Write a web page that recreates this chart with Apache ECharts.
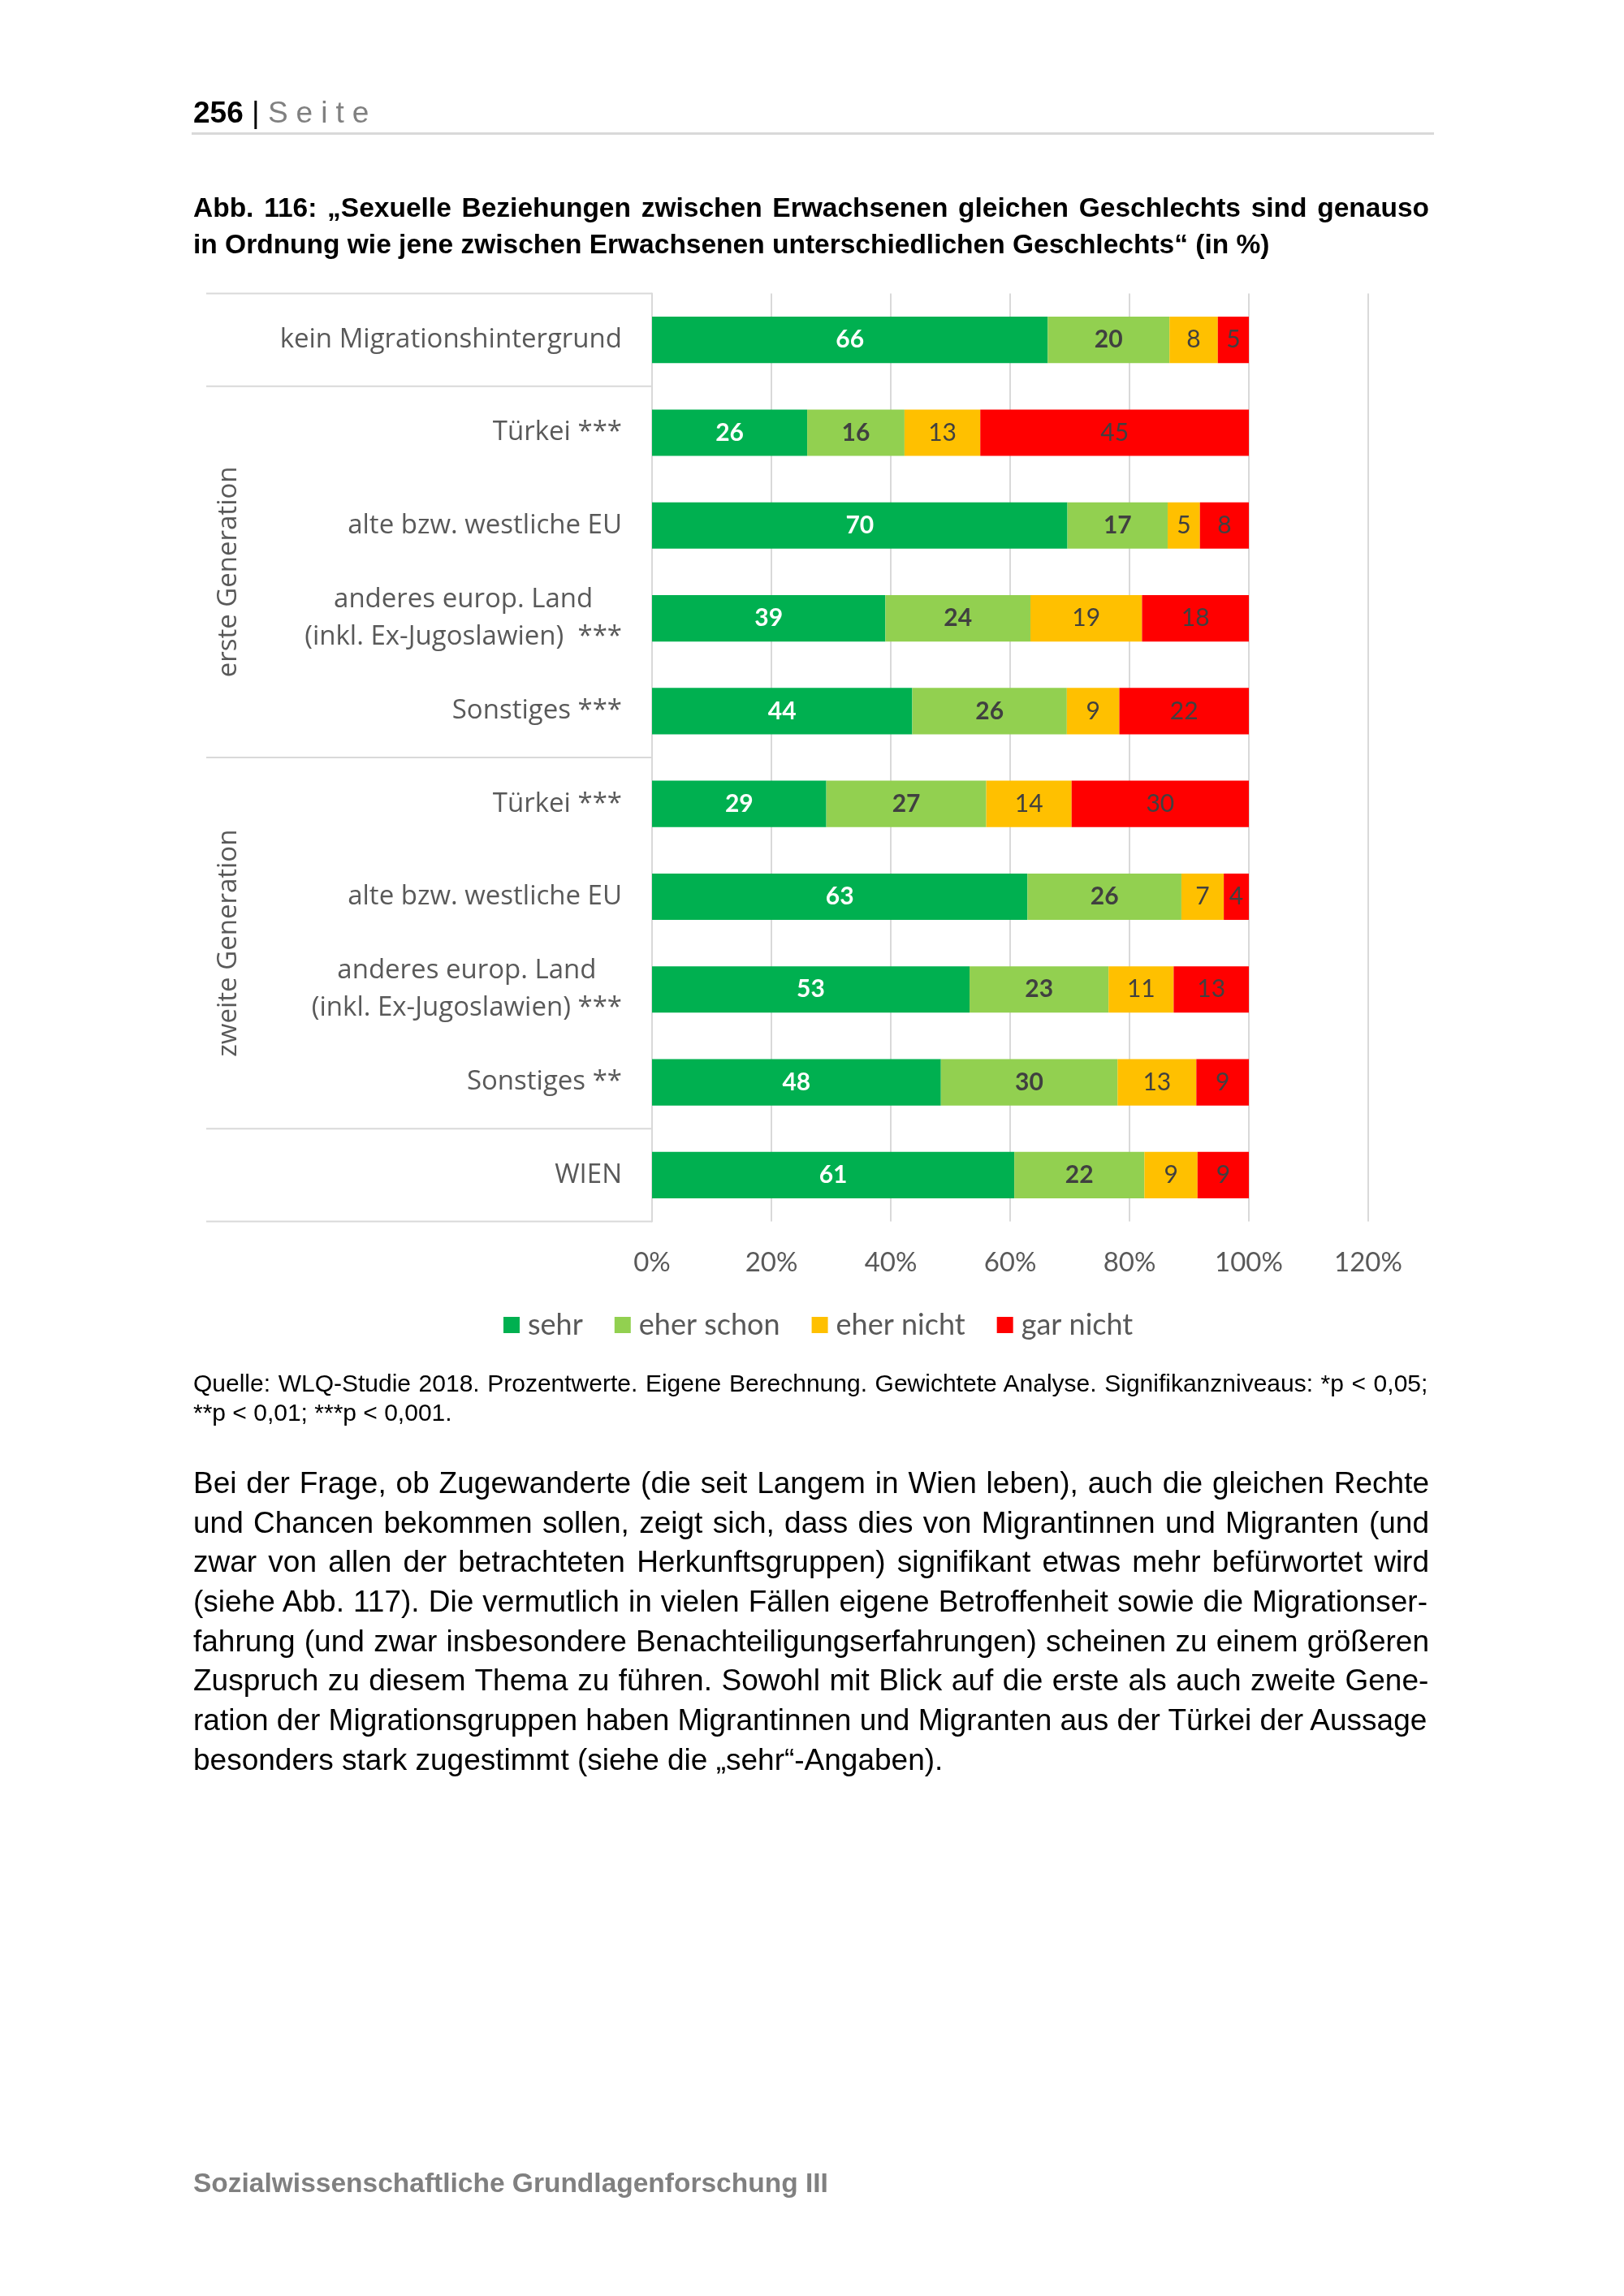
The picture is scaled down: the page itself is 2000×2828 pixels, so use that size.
<!DOCTYPE html>
<html>
<head>
<meta charset="utf-8">
<script src="https://cdn.jsdelivr.net/npm/echarts@6/dist/echarts.min.js"></script>
<style>
html,body{margin:0;padding:0;background:#fff;}
#page{position:relative;width:2000px;height:2828px;overflow:hidden;background:#fff;}
#chart{position:absolute;left:0;top:0;width:2000px;height:2828px;}
.t{position:absolute;left:238px;white-space:nowrap;font-family:"Liberation Sans",Arial,sans-serif;color:#000;}
#rule{position:absolute;left:236px;top:163px;width:1530px;height:3px;background:#d9d9d9;}
</style>
</head>
<body>
<div id="page">
<div id="chart"></div>
<div id="rule"></div>
<div id="texts"></div>
</div>
<script>
// ---------------- data ----------------
const categories = [
  'kein Migrationshintergrund',
  'Türkei ***',
  'alte bzw. westliche EU',
  'anderes europ. Land\n(inkl. Ex-Jugoslawien)  ***',
  'Sonstiges ***',
  'Türkei ***',
  'alte bzw. westliche EU',
  'anderes europ. Land\n(inkl. Ex-Jugoslawien) ***',
  'Sonstiges **',
  'WIEN'
];
const seriesNames = ['sehr', 'eher schon', 'eher nicht', 'gar nicht'];
const sehr      = [66.3, 26.0, 69.6, 39.1, 43.6, 29.2, 62.9, 53.2, 48.4, 60.7];
const eherSchon = [20.4, 16.3, 16.8, 24.3, 25.9, 26.8, 25.8, 23.3, 29.6, 21.8];
const eherNicht = [8.1, 12.7, 5.4, 18.7, 8.8, 14.3, 7.1, 10.9, 13.2, 8.9];
const garNicht  = [5.2, 45.0, 8.2, 17.9, 21.7, 29.7, 4.2, 12.6, 8.8, 8.6];
const xMin = 0, xMax = 120, xStep = 20;
const groupLabels = [
  {name: 'erste Generation', from: 1, to: 4},
  {name: 'zweite Generation', from: 5, to: 8}
];
const separatorBefore = [0, 1, 5, 9, 10];

// ---------------- page text ----------------
const textLines = [
  {html:'<b>256</b> | <span style="color:#808080;letter-spacing:10px">Seite</span>', cy:139, size:37, lh:44},
  {text:'Abb. 116: „Sexuelle Beziehungen zwischen Erwachsenen gleichen Geschlechts sind genauso', cy:256, size:33.5, lh:42, bold:true, justify:true},
  {text:'in Ordnung wie jene zwischen Erwachsenen unterschiedlichen Geschlechts“ (in %)', cy:301, size:33.5, lh:42, bold:true},
  {text:'Quelle: WLQ-Studie 2018. Prozentwerte. Eigene Berechnung. Gewichtete Analyse. Signifikanzniveaus: *p < 0,05;', cy:1704, size:30, lh:36, justify:true},
  {text:'**p < 0,01; ***p < 0,001.', cy:1740, size:30, lh:36},
  {text:'Bei der Frage, ob Zugewanderte (die seit Langem in Wien leben), auch die gleichen Rechte', cy:1827, size:37, lh:46, justify:true},
  {text:'und Chancen bekommen sollen, zeigt sich, dass dies von Migrantinnen und Migranten (und', cy:1875.5, size:37, lh:46, justify:true},
  {text:'zwar von allen der betrachteten Herkunftsgruppen) signifikant etwas mehr befürwortet wird', cy:1924.2, size:37, lh:46, justify:true},
  {text:'(siehe Abb. 117). Die vermutlich in vielen Fällen eigene Betroffenheit sowie die Migrationser-', cy:1972.8, size:37, lh:46, justify:true},
  {text:'fahrung (und zwar insbesondere Benachteiligungserfahrungen) scheinen zu einem größeren', cy:2021.5, size:37, lh:46, justify:true},
  {text:'Zuspruch zu diesem Thema zu führen. Sowohl mit Blick auf die erste als auch zweite Gene-', cy:2070.2, size:37, lh:46, justify:true},
  {text:'ration der Migrationsgruppen haben Migrantinnen und Migranten aus der Türkei der Aussage', cy:2118.9, size:37, lh:46, justify:true},
  {text:'besonders stark zugestimmt (siehe die „sehr“-Angaben).', cy:2167.7, size:37, lh:46},
  {text:'Sozialwissenschaftliche Grundlagenforschung III', cy:2689, size:33.5, lh:40, bold:true, color:'#808080'}
];
const TARGET_W = 1522;
const measureCtx = document.createElement('canvas').getContext('2d');
const holder = document.getElementById('texts');
textLines.forEach(function (l) {
  const d = document.createElement('div');
  d.className = 't';
  d.style.fontSize = l.size + 'px';
  d.style.lineHeight = l.lh + 'px';
  d.style.top = (l.cy - l.lh / 2) + 'px';
  if (l.bold) d.style.fontWeight = 'bold';
  if (l.color) d.style.color = l.color;
  if (l.html) { d.innerHTML = l.html; }
  else { d.textContent = l.text; }
  if (l.justify) {
    measureCtx.font = (l.bold ? 'bold ' : '') + l.size + 'px "Liberation Sans"';
    const w = measureCtx.measureText(l.text).width;
    const spaces = (l.text.match(/ /g) || []).length;
    if (spaces > 0) d.style.wordSpacing = ((TARGET_W - w) / spaces) + 'px';
  }
  holder.appendChild(d);
});

// ---------------- chart ----------------
const colors = ['#00B050', '#92D050', '#FFC000', '#FF0000'];
const values = [sehr, eherSchon, eherNicht, garNicht];
const labelStyles = [
  {color:'#ffffff', fontWeight:'bold'},
  {color:'#404040', fontWeight:'bold'},
  {color:'#404040', fontWeight:'normal'},
  {color:'#404040', fontWeight:'normal'}
];
const chart = echarts.init(document.getElementById('chart'), null, {renderer:'canvas'});
const gridLine = '#D9D9D9';
const catFont = 'Open Sans';
const option = {
  animation: false,
  backgroundColor: 'transparent',
  grid: {left: 803, right: 315, top: 361.5, height: 1143, containLabel: false},
  xAxis: {
    type: 'value', min: xMin, max: xMax, interval: xStep,
    axisLine: {show: false}, axisTick: {show: false},
    splitLine: {show: true, lineStyle: {color: gridLine, width: 2}},
    axisLabel: {formatter: '{value}%', color: '#595959', fontFamily: 'Lato', fontSize: 33, margin: 34}
  },
  yAxis: {
    type: 'category', inverse: true, data: categories,
    axisLine: {show: true, lineStyle: {color: gridLine, width: 2}},
    axisTick: {show: false},
    axisLabel: {
      interval: 0, margin: 37, color: '#595959', fontFamily: catFont, fontSize: 33, lineHeight: 46,
      formatter: function (v) { return v.split('\n').map(function (s) { return '{c|' + s + '}'; }).join('\n'); },
      rich: {c: {align: 'center', color: '#595959', fontFamily: catFont, fontSize: 33, lineHeight: 46}}
    }
  },
  legend: {
    data: seriesNames, left: 615, top: 1609, icon: 'rect', itemWidth: 20, itemHeight: 20, itemGap: 39,
    textStyle: {fontFamily: 'Lato', fontSize: 36, color: '#595959', padding: [0, 0, 0, 5]}
  },
  series: seriesNames.map(function (name, i) {
    return {
      name: name, type: 'bar', stack: 'total', barCategoryGap: '50%',
      data: values[i],
      itemStyle: {color: colors[i]},
      emphasis: {disabled: true},
      label: {
        show: true, position: 'inside', fontFamily: 'Lato', fontSize: 30,
        color: labelStyles[i].color, fontWeight: labelStyles[i].fontWeight,
        textBorderWidth: 0,
        formatter: function (p) { return Math.round(p.value); }
      }
    };
  })
};
chart.setOption(option);

// separators and group labels positioned through the axis scale
const yc = function (i) { return chart.convertToPixel({yAxisIndex: 0}, i); };
const band = yc(1) - yc(0);
const boundary = function (i) { return yc(i) - band / 2; };
const axisX = chart.convertToPixel({xAxisIndex: 0}, 0);
const labelLeft = 254;
const graphics = [];
separatorBefore.forEach(function (i) {
  const y = boundary(i);
  graphics.push({type: 'line', silent: true, shape: {x1: labelLeft, y1: y, x2: axisX, y2: y},
    style: {stroke: gridLine, lineWidth: 2}});
});
groupLabels.forEach(function (g) {
  const cy = (boundary(g.from) + boundary(g.to + 1)) / 2;
  graphics.push({type: 'text', silent: true, x: 282, y: cy, rotation: Math.PI / 2,
    style: {text: g.name, fill: '#595959', font: '33px "Open Sans"', align: 'center', verticalAlign: 'middle',
      textAlign: 'center', textVerticalAlign: 'middle'}});
});
chart.setOption({graphic: graphics});
</script>
</body>
</html>
